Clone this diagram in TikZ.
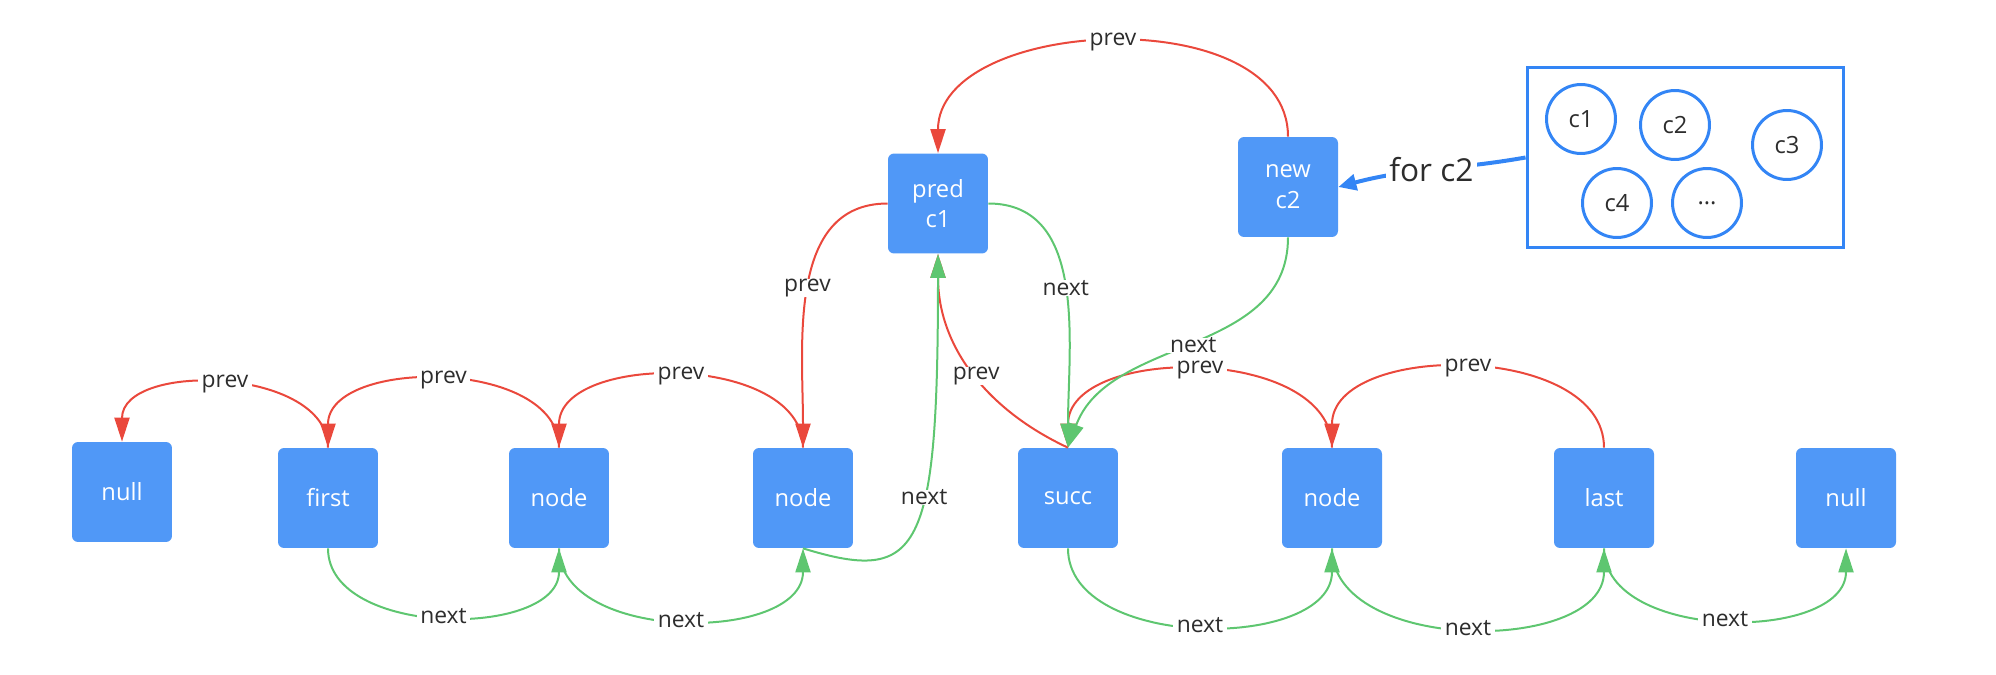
\documentclass[tikz,border=0pt]{standalone}
\usepackage{fontspec}
\setmainfont{Open Sans}
\usetikzlibrary{arrows.meta}
\definecolor{cellblue}{RGB}{80,152,247}
\definecolor{poolblue}{RGB}{51,133,245}
\definecolor{prevred}{RGB}{234,72,60}
\definecolor{nextgreen}{RGB}{94,198,112}
\definecolor{tagtext}{RGB}{45,45,45}

\begin{document}
\begin{tikzpicture}[x=0.02cm, y=0.02cm,
    cell/.style={fill=cellblue, rounded corners=0.12cm, minimum width=2cm, minimum height=2cm,
      text=white, align=center, font=\fontsize{13.5}{17.5}\selectfont},
    elem/.style={circle, draw=poolblue, line width=0.06cm, minimum size=1.38cm, inner sep=0pt,
      text=tagtext, font=\fontsize{13.5}{16}\selectfont},
    prevarrow/.style={draw=prevred, line width=0.04cm, -{Triangle[length=0.48cm, width=0.3cm]}},
    nextarrow/.style={draw=nextgreen, line width=0.04cm, -{Triangle[length=0.48cm, width=0.3cm]}},
    tag/.style={fill=white, text=tagtext, inner xsep=2pt, inner ysep=0pt, font=\fontsize{13}{15}\selectfont}]
  \useasboundingbox (0,0) rectangle (1996,674);

  \node[cell] (null1) at (122,182) {null};
  \node[cell] (first) at (328,176) {first};
  \node[cell] (node1) at (559,176) {node};
  \node[cell] (node2) at (803,176) {node};
  \node[cell] (succ) at (1068,176) {succ};
  \node[cell] (node3) at (1332,176) {node};
  \node[cell] (last) at (1604,176) {last};
  \node[cell] (null2) at (1846,176) {null};
  \node[cell] (pred) at (938,470.5) {pred\\c1};
  \node[cell] (new) at (1288,487) {new\\c2};

  \node[draw=poolblue, line width=0.06cm, minimum width=6.34cm, minimum height=3.62cm] (pool) at (1685.5,516.5) {};
  \node[elem] (c1) at (1581,555) {c1};
  \node[elem] (c2) at (1675,549) {c2};
  \node[elem] (c3) at (1787,529) {c3};
  \node[elem] (c4) at (1617,471) {c4};
  \node[elem] (cdots) at (1707,471) {...};

  \foreach \a/\b in {first/null1, node1/first, node2/node1, node3/succ, last/node3}{
    \draw[prevarrow] (\a.north) to[out=90,in=90] node[tag]{prev} (\b.north);
  }
  \draw[prevarrow] (pred.west) to[out=180,in=90] node[tag]{prev} (node2.north);
  \draw[prevarrow] (succ.north) to[out=155,in=-90] node[tag,pos=0.47]{prev} (pred.south);
  \draw[prevarrow] (new.north) to[out=90,in=90] node[tag]{prev} (pred.north);

  \foreach \a/\b in {first/node1, node1/node2, succ/node3, node3/last, last/null2}{
    \draw[nextarrow] (\a.south) to[out=-90,in=-90] node[tag]{next} (\b.south);
  }
  \draw[nextarrow] (pred.east) to[out=0,in=90] node[tag]{next} (succ.north);
  \draw[nextarrow] (node2.south) .. controls +(117,-36) and +(0,-300) .. node[tag,pos=0.6]{next} (pred.south);
  \draw[nextarrow] (new.south) to[out=-90,in=70] node[tag]{next} (succ.north);

  \draw[draw=poolblue, line width=0.08cm, -{Triangle[length=0.36cm, width=0.32cm]}]
    (pool.west) to[out=190,in=15] node[tag, font=\fontsize{18}{21}\selectfont]{for c2} (new.east);
\end{tikzpicture}
\end{document}
